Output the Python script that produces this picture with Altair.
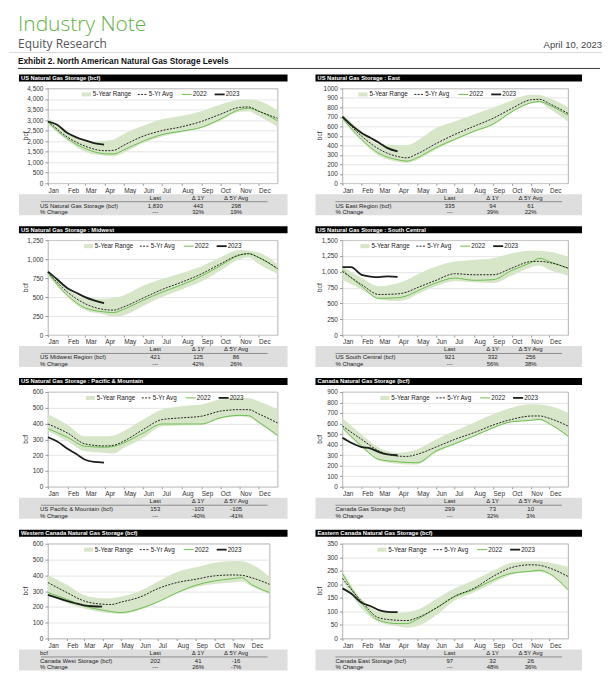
import altair as alt
import pandas as pd

# ---------------- data ----------------
DATES = ["01-01", "02-01", "03-01", "04-01", "04-15", "05-01", "06-01", "07-01",
         "08-01", "09-01", "10-01", "11-01", "11-15", "12-01", "12-31"]
DATES_2023 = ["01-01", "01-15", "02-01", "02-15", "03-01", "03-15", "03-31"]

US_HI = [3110, 2420, 1960, 2020, 2080, 2340, 2730, 3040, 3190, 3420, 3730, 3960, 3980, 3910, 3450]
US_LO = [2800, 2030, 1490, 1300, 1280, 1450, 1910, 2220, 2420, 2620, 2960, 3390, 3420, 3190, 2680]
US_AVG = [2960, 2190, 1760, 1545, 1560, 1800, 2235, 2500, 2680, 2930, 3270, 3600, 3620, 3420, 3080]
US_2022 = [2900, 2110, 1650, 1400, 1390, 1580, 2000, 2310, 2470, 2650, 3040, 3500, 3560, 3420, 2960]
US_2023 = [2930, 2790, 2380, 2180, 2030, 1910, 1830]

EAST_HI = [736, 548, 411, 404, 400, 445, 582, 651, 726, 795, 873, 932, 930, 897, 805]
EAST_LO = [665, 445, 290, 225, 215, 245, 355, 450, 540, 615, 745, 840, 850, 785, 650]
EAST_AVG = [695, 497, 360, 281, 268, 308, 418, 514, 600, 685, 788, 880, 885, 839, 736]
EAST_2022 = [685, 462, 315, 247, 233, 267, 377, 462, 548, 623, 753, 849, 862, 822, 719]
EAST_2023 = [702, 616, 531, 479, 428, 370, 335]

MW_HI = [848, 609, 487, 478, 490, 522, 652, 739, 817, 904, 1022, 1120, 1110, 1087, 935]
MW_LO = [783, 500, 326, 270, 240, 261, 383, 500, 600, 704, 848, 1000, 1020, 935, 804]
MW_AVG = [826, 565, 413, 335, 328, 370, 487, 600, 696, 804, 935, 1057, 1070, 1022, 878]
MW_2022 = [817, 522, 357, 304, 296, 339, 457, 565, 661, 774, 913, 1052, 1075, 1022, 870]
MW_2023 = [835, 739, 617, 557, 500, 457, 421]

SC_HI = [1083, 901, 771, 823, 870, 953, 1083, 1161, 1188, 1214, 1292, 1333, 1330, 1318, 1240]
SC_LO = [875, 719, 560, 536, 560, 641, 771, 849, 833, 823, 938, 1073, 1100, 1031, 938]
SC_AVG = [1005, 797, 641, 651, 680, 745, 865, 969, 953, 953, 1057, 1161, 1165, 1146, 1057]
SC_2022 = [1031, 771, 580, 590, 620, 693, 823, 901, 865, 875, 1021, 1146, 1214, 1161, 1057]
SC_2023 = [1073, 1073, 950, 925, 917, 927, 921]

PM_HI = [461, 393, 319, 319, 325, 351, 425, 488, 510, 520, 552, 562, 560, 541, 488]
PM_LO = [351, 288, 224, 214, 210, 245, 309, 383, 388, 390, 430, 445, 440, 400, 315]
PM_AVG = [397, 340, 271, 258, 262, 288, 362, 425, 436, 446, 478, 488, 488, 461, 404]
PM_2022 = [368, 313, 256, 250, 255, 277, 340, 397, 397, 397, 436, 452, 450, 410, 326]
PM_2023 = [313, 288, 241, 207, 171, 157, 153]

CA_HI = [649, 497, 370, 323, 330, 354, 449, 528, 608, 687, 750, 782, 780, 766, 703]
CA_LO = [544, 370, 250, 218, 212, 212, 323, 402, 475, 555, 612, 625, 630, 590, 470]
CA_AVG = [576, 449, 339, 291, 288, 307, 377, 449, 513, 585, 639, 671, 672, 649, 576]
CA_2022 = [560, 386, 259, 237, 230, 228, 339, 408, 481, 560, 617, 630, 640, 598, 481]
CA_2023 = [465, 418, 377, 364, 329, 307, 299]

WC_HI = [400, 340, 275, 255, 255, 265, 300, 360, 420, 450, 480, 490, 488, 470, 390]
WC_LO = [280, 225, 190, 165, 160, 155, 180, 230, 285, 325, 345, 355, 360, 330, 280]
WC_AVG = [354, 291, 238, 217, 215, 230, 262, 316, 354, 375, 396, 402, 400, 385, 343]
WC_2022 = [291, 248, 206, 179, 170, 164, 189, 232, 290, 337, 364, 379, 385, 343, 291]
WC_2023 = [276, 259, 238, 223, 210, 204, 202]

EC_HI = [250, 145, 100, 95, 97, 105, 145, 185, 215, 250, 280, 285, 285, 280, 265]
EC_LO = [215, 110, 60, 45, 40, 45, 85, 140, 170, 205, 235, 245, 245, 235, 175]
EC_AVG = [222, 137, 76, 67, 66, 76, 112, 156, 185, 229, 262, 272, 270, 260, 229]
EC_2022 = [239, 130, 67, 55, 55, 70, 112, 154, 181, 216, 241, 248, 252, 239, 180]
EC_2023 = [185, 166, 132, 120, 105, 98, 97]

TITLES = ["US Natural Gas Storage (bcf)", "US Natural Gas Storage : East",
          "US Natural Gas Storage : Midwest", "US Natural Gas Storage : South Central",
          "US Natural Gas Storage : Pacific & Mountain", "Canada Natural Gas Storage (bcf)",
          "Western Canada Natural Gas Storage (bcf)", "Eastern Canada Natural Gas Storage (bcf)"]
ROW_LABELS = ["US Natural Gas Storage (bcf)", "US East Region (bcf)", "US Midwest Region (bcf)",
              "US South Central (bcf)", "US Pacific & Mountain (bcf)", "Canada Gas Storage (bcf)",
              "Canada West Storage (bcf)", "Canada East Storage (bcf)"]
HEAD_LABELS = ["", "", "", "", "", "", "bcf", ""]
LAST = ["1,830", "335", "421", "921", "153", "299", "202", "97"]
D1Y = ["443", "94", "125", "332", "-103", "73", "41", "32"]
D5Y = ["298", "61", "86", "256", "-105", "10", "-16", "26"]
P1Y = ["32%", "39%", "42%", "56%", "-40%", "32%", "26%", "48%"]
P5Y = ["19%", "22%", "26%", "38%", "-41%", "3%", "-7%", "36%"]
YMAX = [4500, 1000, 1250, 1500, 600, 900, 600, 350]
YSTEP = [500, 100, 250, 250, 100, 100, 100, 50]

SERIES = [
    (US_LO, US_HI, US_AVG, US_2022, US_2023),
    (EAST_LO, EAST_HI, EAST_AVG, EAST_2022, EAST_2023),
    (MW_LO, MW_HI, MW_AVG, MW_2022, MW_2023),
    (SC_LO, SC_HI, SC_AVG, SC_2022, SC_2023),
    (PM_LO, PM_HI, PM_AVG, PM_2022, PM_2023),
    (CA_LO, CA_HI, CA_AVG, CA_2022, CA_2023),
    (WC_LO, WC_HI, WC_AVG, WC_2022, WC_2023),
    (EC_LO, EC_HI, EC_AVG, EC_2022, EC_2023),
]

# ---------------- layout / style ----------------
FMT = [",.0f", ".0f", ",.0f", ",.0f", ",.0f", ",.0f", ",.0f", ",.0f"]
WIDTHS = [230, 226, 230, 226, 230, 226, 222, 226]
LEG_X = [34, 16, 36, 18, 38, 38, 36, 35]
H = 95
FONT = "Liberation Sans"
BAND = "#d7e5c8"
GREEN = "#6cbf4f"
DARK = "#1b1f1b"


def ts(md):
    return f"2023-{md}T00:00:00"


def vrule(data, x1, x2, y, color, width, dash=None):
    kw = dict(color=color, strokeWidth=width)
    if dash:
        kw["strokeDash"] = dash
    return alt.Chart(data).mark_rule(**kw).encode(
        x=alt.value(x1), x2=alt.value(x2), y=alt.value(y))


def vtext(data, x, y, text=None, field=None, **kw):
    base = dict(baseline="middle", align="left", fontSize=6, color="#222")
    base.update(kw)
    if text is not None:
        base["text"] = text
    ch = alt.Chart(data).mark_text(**base)
    enc = dict(x=alt.value(x), y=alt.value(y))
    if field is not None:
        enc["text"] = alt.Text(f"{field}:N")
    return ch.encode(**enc)


def make_panel(i):
    lo, hi, avg, y22, y23 = SERIES[i]
    col = i % 2
    W = WIDTHS[i]
    dates = [ts(d) for d in DATES]
    band_df = pd.DataFrame({"date": dates, "lo": lo, "hi": hi})
    avg_df = pd.DataFrame({"date": dates, "value": avg})
    y22_df = pd.DataFrame({"date": dates, "value": y22})
    y23_df = pd.DataFrame({"date": [ts(d) for d in DATES_2023], "value": y23})
    info = pd.DataFrame([{
        "title": TITLES[i], "label": ROW_LABELS[i], "head": HEAD_LABELS[i],
        "last": LAST[i], "d1y": D1Y[i], "d5y": D5Y[i], "p1y": P1Y[i], "p5y": P5Y[i],
        "plast": "---",
    }])

    xenc = alt.X(
        "date:T", title=None,
        scale=alt.Scale(domain=[alt.DateTime(year=2023, month=1, date=1),
                                alt.DateTime(year=2023, month=12, date=31)]),
        axis=alt.Axis(values=[alt.DateTime(year=2023, month=m, date=1) for m in range(1, 13)],
                      format="%b", labelAlign="left", labelPadding=2, tickSize=2,
                      grid=False, domain=False, labelFontSize=6.5, labelColor="#333",
                      tickColor="#999", labelFont=FONT),
    )
    yscale = alt.Scale(domain=[0, YMAX[i]], nice=False)
    yaxis = alt.Axis(values=list(range(0, YMAX[i] + 1, YSTEP[i])), format=FMT[i],
                     grid=True, gridColor="#d9d9d9", gridWidth=0.7, domain=False,
                     tickSize=3, tickColor="#999", labelPadding=2, labelFontSize=6.5,
                     labelColor="#333", labelFont=FONT)

    band = alt.Chart(band_df).mark_area(color=BAND, interpolate="monotone").encode(
        x=xenc, y=alt.Y("lo:Q", scale=yscale, axis=yaxis, title=None), y2="hi:Q")
    l22 = alt.Chart(y22_df).mark_line(color=GREEN, strokeWidth=1, interpolate="monotone").encode(
        x=xenc, y=alt.Y("value:Q", scale=yscale, axis=yaxis, title=None))
    lavg = alt.Chart(avg_df).mark_line(color="#111", strokeWidth=0.9, strokeDash=[2, 1.3],
                                       interpolate="monotone").encode(
        x=xenc, y=alt.Y("value:Q", scale=yscale, axis=yaxis, title=None))
    l23 = alt.Chart(y23_df).mark_line(color=DARK, strokeWidth=1.8, interpolate="monotone").encode(
        x=xenc, y=alt.Y("value:Q", scale=yscale, axis=yaxis, title=None))

    layers = [band, l22, lavg, l23]

    # legend
    x0 = LEG_X[i]
    ly = 6
    layers += [
        vrule(info, x0, x0 + 9, ly, BAND, 4),
        vtext(info, x0 + 11, ly, text="5-Year Range", fontSize=6.3),
        vrule(info, x0 + 56, x0 + 66, ly, "#111", 0.9, [2, 1.3]),
        vtext(info, x0 + 67, ly, text="5-Yr Avg", fontSize=6.3),
        vrule(info, x0 + 100, x0 + 110, ly, GREEN, 1),
        vtext(info, x0 + 111, ly, text="2022", fontSize=6.3),
        vrule(info, x0 + 133, x0 + 143, ly, DARK, 1.8),
        vtext(info, x0 + 144, ly, text="2023", fontSize=6.3),
    ]

    # y title
    layers.append(vtext(info, -22, H / 2, text="bcf", angle=270, align="center",
                        fontSize=6.5, color="#333"))

    # header bar
    hx0 = -29 if col == 0 else -27
    hx1 = 240
    layers.append(alt.Chart(info).mark_rect(color="black").encode(
        x=alt.value(hx0), x2=alt.value(hx1), y=alt.value(-14), y2=alt.value(-7)))
    layers.append(vtext(info, hx0 + 2, -10.5, field="title", color="white",
                        fontSize=5.8, fontWeight="bold"))

    # table
    layers.append(alt.Chart(info).mark_rect(color="#dedede").encode(
        x=alt.value(hx0), x2=alt.value(hx1), y=alt.value(H + 11), y2=alt.value(H + 32)))
    tl = -8 if col == 0 else -7
    cx = [107.5, 150.5, 188.5]
    r1, r2, r3 = H + 14.5, H + 22.5, H + 29
    layers += [
        vtext(info, tl, r1, field="head"),
        vtext(info, cx[0], r1, text="Last", align="center"),
        vtext(info, cx[1], r1, text="Δ 1Y", align="center"),
        vtext(info, cx[2], r1, text="Δ 5Y Avg", align="center"),
        vrule(info, -7, 220, H + 18.5, "#555", 0.6),
        vtext(info, tl, r2, field="label"),
        vtext(info, cx[0], r2, field="last", align="center"),
        vtext(info, cx[1], r2, field="d1y", align="center"),
        vtext(info, cx[2], r2, field="d5y", align="center"),
        vtext(info, tl, r3, text="% Change"),
        vtext(info, cx[0], r3, field="plast", align="center"),
        vtext(info, cx[1], r3, field="p1y", align="center"),
        vtext(info, cx[2], r3, field="p5y", align="center"),
    ]

    if i == 0:
        # page title block, positioned relative to the first plot (page 47, 87)
        layers += [
            alt.Chart(info).mark_rect(color="white").encode(
                x=alt.value(-39), x2=alt.value(-38), y=alt.value(-79), y2=alt.value(-78)),
            vtext(info, -30, -58, text="Industry Note", baseline="alphabetic",
                  font="Open Sans", fontSize=21, fontWeight=300, color="#5fb246"),
            vtext(info, -30, -40, text="Equity Research", baseline="alphabetic",
                  font="Open Sans", fontSize=12, color="#555"),
            vtext(info, 555, -40, text="April 10, 2023", baseline="alphabetic",
                  align="right", fontSize=9.5, color="#444"),
            vrule(info, -39, 555, -36, "#cfcfcf", 0.8),
            vtext(info, -30, -24, text="Exhibit 2. North American Natural Gas Storage Levels",
                  baseline="alphabetic", fontSize=8.3, fontWeight="bold", color="#111"),
            vrule(info, -30, 553, -20, "#3a3a3a", 1),
        ]

    return alt.layer(*layers).properties(width=W, height=H)


panels = [make_panel(i) for i in range(8)]

chart = alt.concat(
    *panels, columns=2, bounds="flush", align="all",
    spacing={"row": 57, "column": 65}, padding=0,
).configure_view(stroke="#a0a0a0", strokeWidth=0.8).configure_text(font=FONT)

chart.save("out.html", embed_options={"renderer": "svg", "actions": False})
